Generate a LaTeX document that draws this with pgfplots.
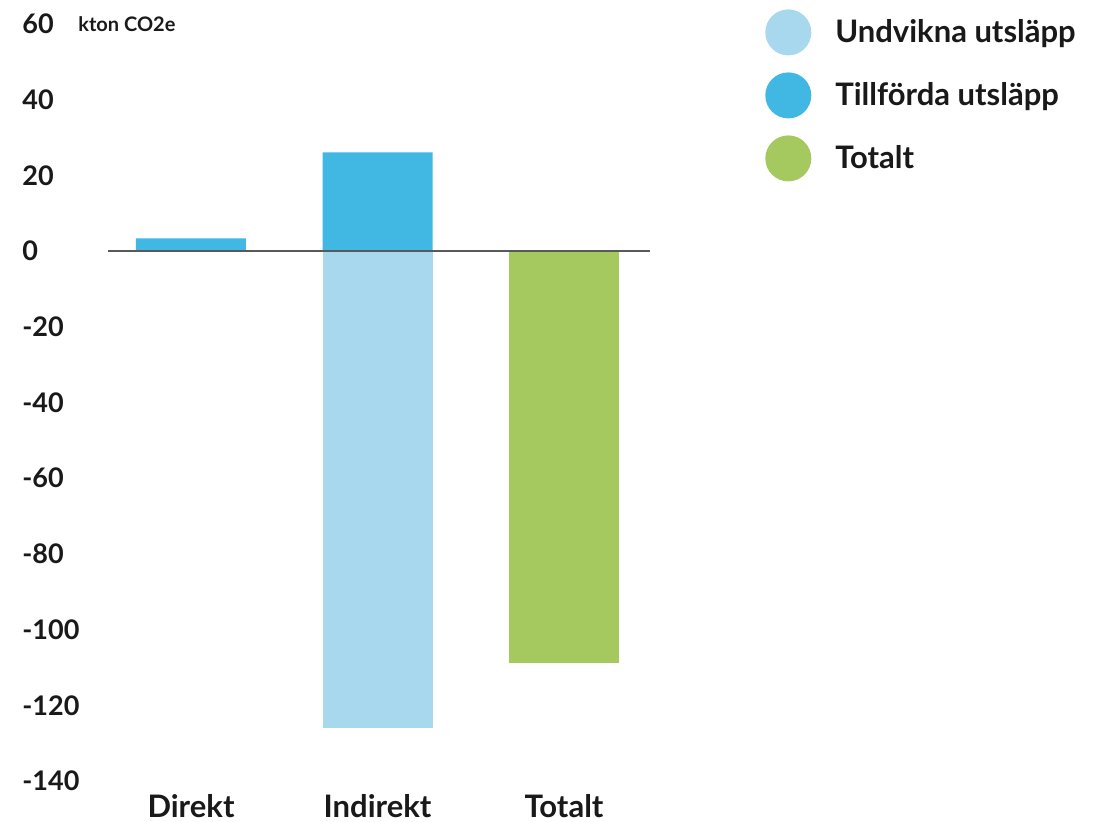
\documentclass[border=0pt]{standalone}
\usepackage{fontspec}
\setmainfont{Lato}
\usepackage{pgfplots}
\pgfplotsset{compat=1.18}
\definecolor{lblue}{RGB}{168,216,238}
\definecolor{mblue}{RGB}{65,183,228}
\definecolor{tgreen}{RGB}{165,201,95}
\begin{document}
\begin{tikzpicture}
\begin{axis}[
  name=ax,
  scale only axis, width=271pt, height=378.5pt,
  xmin=-0.445, xmax=2.461, ymin=-140, ymax=60,
  axis line style={draw=none}, major tick length=0pt,
  xtick={0,1,2}, xticklabels={Direkt,Indirekt,Totalt},
  ytick={-140,-120,...,60},
  /pgf/number format/assume math mode=true,
  yticklabel style={anchor=west, inner sep=0pt, xshift=-43pt, font=\fontsize{13.5}{15}\selectfont\bfseries, text=black!90},
  xticklabel style={font=\fontsize{15.5}{17}\selectfont\bfseries, yshift=-3pt, text=black!90},
  ybar, bar width=55pt,
  clip=false,
  legend style={draw=none, fill=none, inner sep=0pt, at={(1.212,1.0198)}, anchor=north west,
    row sep=8.5pt, font=\fontsize{15.5}{17}\selectfont\bfseries, text=black!90,
    nodes={inner xsep=12pt, inner ysep=0pt}},
  legend cell align=left,
]
\addplot[fill=lblue, draw=none, bar shift=0pt,
  legend image code/.code={\fill[lblue] (11.5pt,0pt) circle (11.5pt);}]
  coordinates {(1,-126.1)};
\addlegendentry{Undvikna utsläpp}
\addplot[fill=mblue, draw=none, bar shift=0pt,
  legend image code/.code={\fill[mblue] (11.5pt,0pt) circle (11.5pt);}]
  coordinates {(0,3.35) (1,26.1)};
\addlegendentry{Tillförda utsläpp}
\addplot[fill=tgreen, draw=none, bar shift=0pt,
  legend image code/.code={\fill[tgreen] (11.5pt,0pt) circle (11.5pt);}]
  coordinates {(2,-108.7)};
\addlegendentry{Totalt}
\draw[black!65, line width=0.6pt] (rel axis cs:0,0.7) -- (rel axis cs:1,0.7);
\node[anchor=west, inner sep=0pt, font=\fontsize{10}{12}\selectfont\bfseries, text=black!90] at (rel axis cs:0,1) [xshift=-15pt] {kton CO2e};
\end{axis}
\pgfresetboundingbox
\path[use as bounding box] ([shift={(-54pt,-20.5pt)}]ax.south west) rectangle ([shift={(500.5pt,390.5pt)}]ax.south west);
\end{tikzpicture}
\end{document}
